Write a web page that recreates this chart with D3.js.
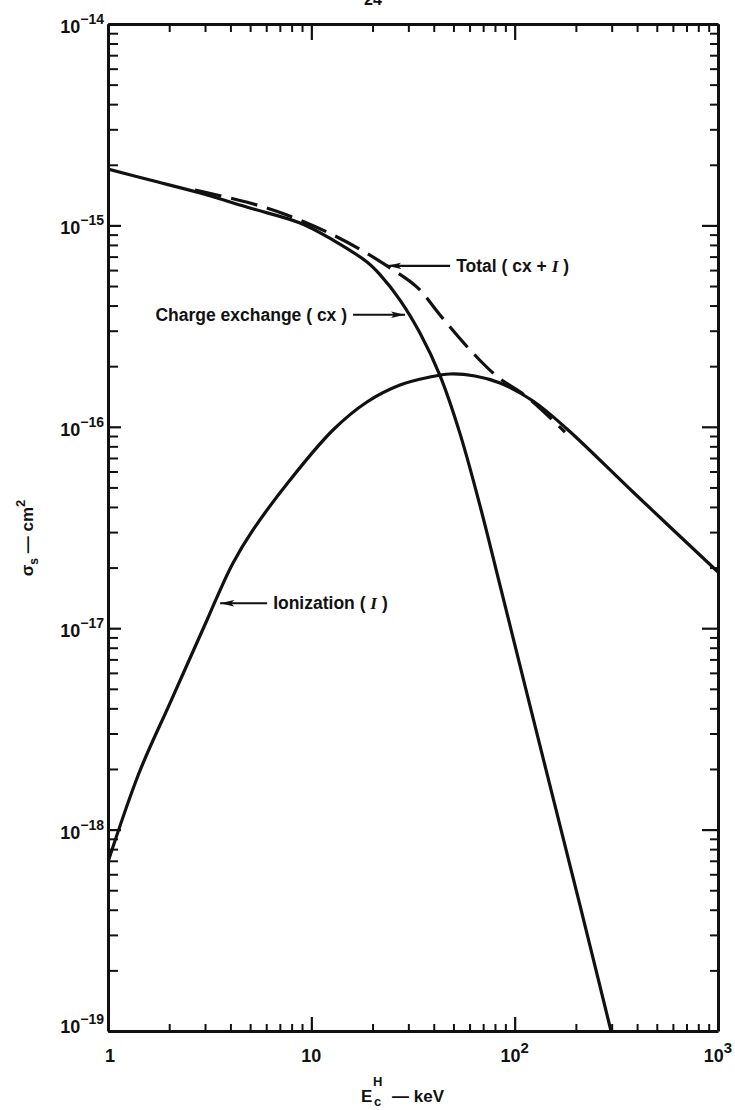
<!DOCTYPE html>
<html>
<head>
<meta charset="utf-8">
<script src="https://cdn.jsdelivr.net/npm/d3@7"></script>
<style>
  body { margin: 0; background: #fff; }
  svg { display: block; }
  text { font-family: "Liberation Sans", Arial, sans-serif; font-weight: bold; fill: #111; }
</style>
</head>
<body>
<svg id="chart" width="735" height="1110"></svg>
<script>
// Charge exchange cross section (keV, cm^2)
const cxEnergy = [1, 1.61, 2.84, 4.99, 8.8, 12.78, 18.78, 21.76, 27.3, 34.22, 42.94, 53.85, 67.53, 84.72, 133.2, 209.6, 297.7];
const cxSigma  = [1.905e-15, 1.68e-15, 1.448e-15, 1.22e-15, 1.028e-15, 8.46e-16, 6.58e-16, 5.7e-16, 4.26e-16, 2.92e-16,
                  1.795e-16, 9.25e-17, 4.06e-17, 1.63e-17, 2.61e-18, 4.2e-19, 1e-19];

// Ionization cross section
const ionEnergy = [1, 1.421, 2.018, 3.069, 3.436, 4.12, 5.166, 7.855, 12.78, 18.78, 27.3, 38.33, 48.08, 63.81, 84.72, 123.1, 180.9, 381.9, 1000];
const ionSigma  = [6.91e-19, 1.91e-18, 4.25e-18, 1.098e-17, 1.428e-17, 2.107e-17, 3.074e-17, 5.443e-17, 9.641e-17, 1.328e-16,
                   1.612e-16, 1.767e-16, 1.829e-16, 1.788e-16, 1.65e-16, 1.343e-16, 9.752e-17, 4.745e-17, 1.901e-17];

// Total (cx + I), dashed
const totEnergy = [2.679, 4.994, 7.593, 11.94, 17.95, 23.56, 33.08, 42.94, 60.31, 81.87, 115.0, 176.8];
const totSigma  = [1.498e-15, 1.291e-15, 1.126e-15, 9.27e-16, 7.46e-16, 6.29e-16, 4.94e-16, 3.59e-16, 2.41e-16, 1.78e-16, 1.406e-16, 9.42e-17];

// Axis ticks and labels
const xMajor = [1, 10, 100, 1000];
const xLabelBase = ["1", "10", "10", "10"];
const xLabelExp  = ["", "", "2", "3"];
const yMajor = [1e-19, 1e-18, 1e-17, 1e-16, 1e-15, 1e-14];
const yLabelExp = ["\u221219", "\u221218", "\u221217", "\u221216", "\u221215", "\u221214"];

// Curve annotations: label and the point the arrow touches
const noteText   = ["Total ( cx + ", "Charge exchange ( cx )", "Ionization ( "];
const noteTail   = ["I )", "", "I )"];
const noteEnergy = [23.6, 28.9, 3.56];
const noteSigma  = [6.3e-16, 3.6e-16, 1.33e-17];

const svg = d3.select("#chart");
const x = d3.scaleLog().domain([1, 1000]).range([108, 718]);
const y = d3.scaleLog().domain([1e-19, 1e-14]).range([1031, 24]);

const isPow10 = v => Math.abs(Math.log10(v) - Math.round(Math.log10(v))) < 1e-9;
const xMinor = x.ticks().filter(v => !isPow10(v));
const yMinor = y.ticks().filter(v => !isPow10(v));

// Page number at the head of the sheet
svg.append("text").attr("x", 373).attr("y", 5).attr("text-anchor", "middle")
  .style("font-size", "16px").text("24");

// Axes: ticks point into the plot on all four sides
function drawAxis(axis, tx, ty, tickW, showDomain) {
  const g = svg.append("g").attr("transform", `translate(${tx},${ty})`).call(axis);
  g.selectAll(".tick line").attr("stroke", "#111").attr("stroke-width", tickW);
  g.selectAll(".tick text").remove();
  g.select(".domain").attr("stroke", "#111").attr("stroke-width", 3)
    .attr("display", showDomain ? null : "none");
  return g;
}
drawAxis(d3.axisBottom(x).tickValues(xMajor).tickSizeInner(-14).tickSizeOuter(0).tickFormat(""), 0, 1031, 2.2, true);
drawAxis(d3.axisBottom(x).tickValues(xMinor).tickSizeInner(-7).tickSizeOuter(0).tickFormat(""), 0, 1031, 2, false);
drawAxis(d3.axisTop(x).tickValues(xMajor).tickSizeInner(-16).tickSizeOuter(0).tickFormat(""), 0, 24, 2.2, true);
drawAxis(d3.axisTop(x).tickValues(xMinor).tickSizeInner(-8).tickSizeOuter(0).tickFormat(""), 0, 24, 2, false);
drawAxis(d3.axisLeft(y).tickValues(yMajor).tickSizeInner(-13).tickSizeOuter(0).tickFormat(""), 108, 0, 2.2, true);
drawAxis(d3.axisLeft(y).tickValues(yMinor).tickSizeInner(-10).tickSizeOuter(0).tickFormat(""), 108, 0, 2, false);
drawAxis(d3.axisRight(y).tickValues(yMajor).tickSizeInner(-16).tickSizeOuter(0).tickFormat(""), 718, 0, 2.2, true);
drawAxis(d3.axisRight(y).tickValues(yMinor).tickSizeInner(-8).tickSizeOuter(0).tickFormat(""), 718, 0, 2, false);

// Y tick labels: 10 with a raised exponent
yMajor.forEach((v, i) => {
  const t = svg.append("text")
    .attr("x", 104)
    .attr("y", y(v) + (i === 0 ? 2 : 9))
    .attr("text-anchor", "end")
    .style("font-size", "18px");
  t.append("tspan").text("10");
  t.append("tspan").attr("dy", -9).style("font-size", "14px").text(yLabelExp[i]);
});

// X tick labels
xMajor.forEach((v, i) => {
  const t = svg.append("text")
    .attr("x", x(v) + (i === 0 ? 2 : 0))
    .attr("y", 1062)
    .attr("text-anchor", "middle")
    .style("font-size", "18px");
  t.append("tspan").text(xLabelBase[i]);
  if (xLabelExp[i]) t.append("tspan").attr("dy", -9).style("font-size", "15px").text(xLabelExp[i]);
});

// X axis title: E with H above and c below, then "— keV"
svg.append("text").attr("x", 361).attr("y", 1102).style("font-size", "17px").text("E");
svg.append("text").attr("x", 373).attr("y", 1086).style("font-size", "13px").text("H");
svg.append("text").attr("x", 374).attr("y", 1106).style("font-size", "13px").text("c");
svg.append("text").attr("x", 392).attr("y", 1102).style("font-size", "17px").text("\u2014 keV");

// Y axis title, rotated
const yt = svg.append("text")
  .attr("transform", "translate(33,538) rotate(-90)")
  .attr("text-anchor", "middle")
  .style("font-size", "17px");
yt.append("tspan").text("\u03c3");
yt.append("tspan").attr("dy", 5).style("font-size", "12px").text("s");
yt.append("tspan").attr("dy", -5).text(" \u2014 cm");
yt.append("tspan").attr("dy", -8).style("font-size", "13px").text("2");

// Curves, clipped to the plot frame
svg.append("clipPath").attr("id", "plotClip")
  .append("rect").attr("x", 108).attr("y", 24).attr("width", 610).attr("height", 1007);

const line = d3.line()
  .x(d => x(d[0]))
  .y(d => y(d[1]))
  .curve(d3.curveCatmullRom.alpha(0.5));

const curves = svg.append("g").attr("clip-path", "url(#plotClip)")
  .attr("fill", "none").attr("stroke", "#111").attr("stroke-linecap", "round");

curves.append("path")
  .attr("d", line(cxEnergy.map((e, i) => [e, cxSigma[i]])))
  .attr("stroke-width", 3.2);
curves.append("path")
  .attr("d", line(ionEnergy.map((e, i) => [e, ionSigma[i]])))
  .attr("stroke-width", 3.2);
curves.append("path")
  .attr("d", line(totEnergy.map((e, i) => [e, totSigma[i]])))
  .attr("stroke-width", 3.2)
  .attr("stroke-linecap", "butt")
  .attr("stroke-dasharray", "27,10");

// Arrow markers for the curve labels
svg.append("defs").append("marker")
  .attr("id", "arrowHead")
  .attr("viewBox", "0 0 14 8")
  .attr("refX", 14).attr("refY", 4)
  .attr("markerWidth", 14).attr("markerHeight", 8)
  .attr("markerUnits", "userSpaceOnUse")
  .attr("orient", "auto")
  .append("path").attr("d", "M0,0.8 L14,4 L0,7.2 L3,4 Z").attr("fill", "#111");

const arrowLen = [63, 52, 47];
const arrowDir = [1, -1, 1];   // +1: label to the right of the curve, -1: to the left
noteText.forEach((txt, i) => {
  const px = x(noteEnergy[i]), py = y(noteSigma[i]);
  const tailX = px + arrowDir[i] * arrowLen[i];
  svg.append("line")
    .attr("x1", tailX).attr("y1", py).attr("x2", px).attr("y2", py)
    .attr("stroke", "#111").attr("stroke-width", 2.2)
    .attr("marker-end", "url(#arrowHead)");
  const t = svg.append("text")
    .attr("x", tailX + arrowDir[i] * 6)
    .attr("y", py + 6)
    .attr("text-anchor", arrowDir[i] > 0 ? "start" : "end")
    .style("font-size", "17.5px");
  t.append("tspan").text(txt);
  if (noteTail[i]) {
    t.append("tspan").style("font-style", "italic").style("font-family", "'Liberation Serif', serif").text("I");
    t.append("tspan").text(" )");
  }
});
</script>
</body>
</html>
